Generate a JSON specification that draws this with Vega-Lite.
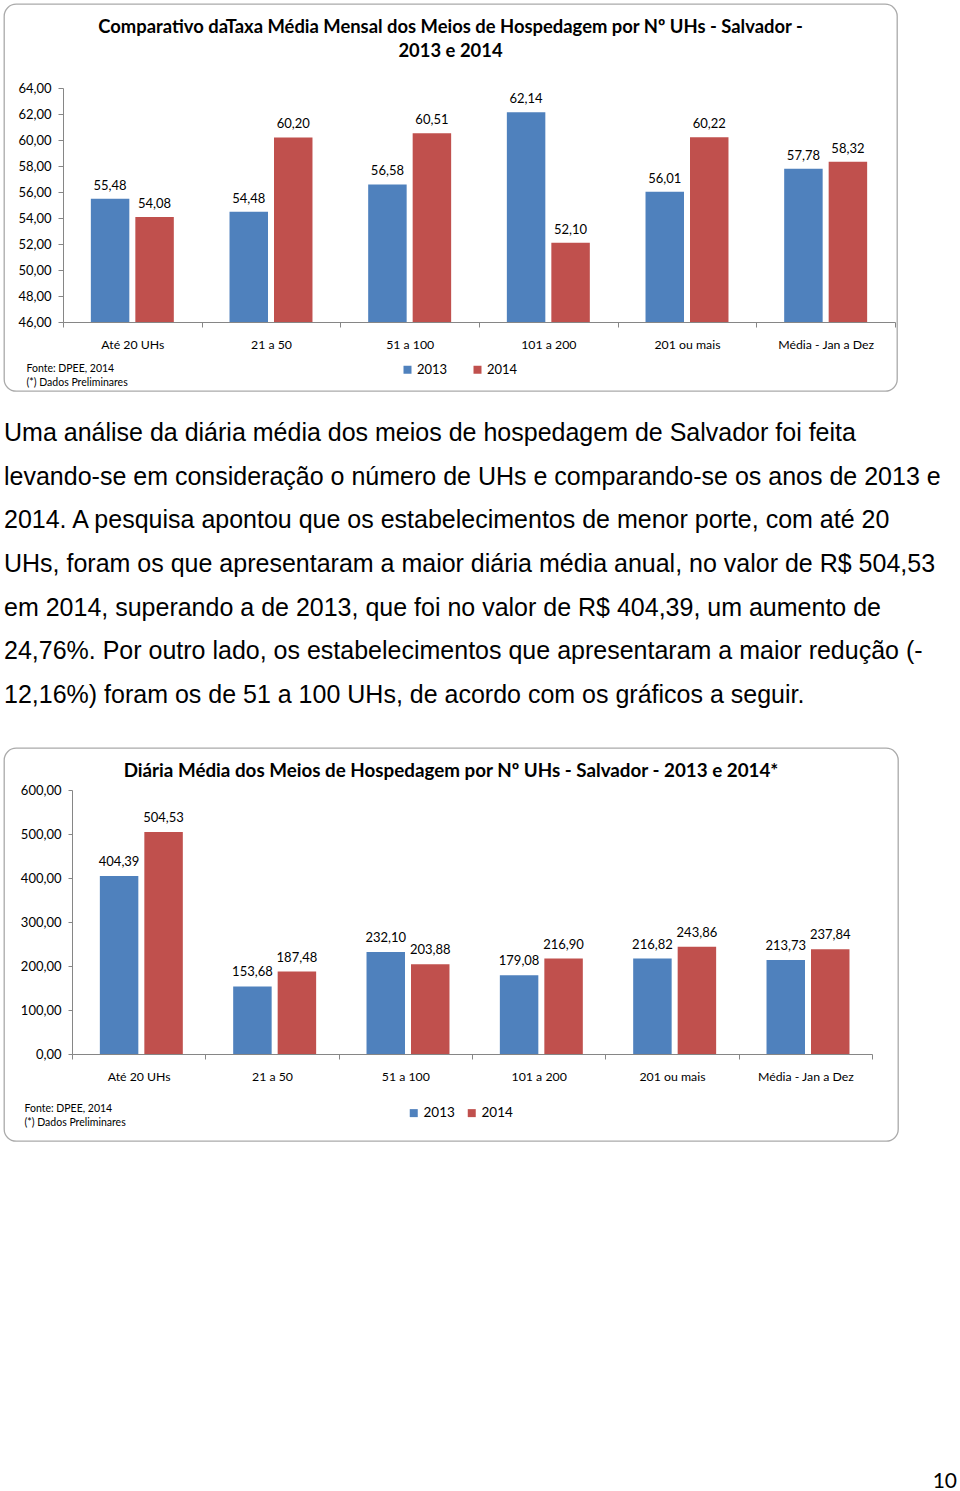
{
  "$schema": "https://vega.github.io/schema/vega-lite/v6.json",
  "padding": {"left": 3, "top": 3, "right": 2, "bottom": 0},
  "spacing": 0,
  "background": "white",
  "resolve": {"scale": {"color": "independent"}, "legend": {"color": "independent"}},
  "config": {
    "locale": {"number": {"decimal": ",", "thousands": ".", "grouping": [3], "currency": ["R$ ", ""]}},
    "view": {"stroke": "#aaaaaa", "strokeWidth": 1.3, "cornerRadius": 12},
    "axis": {"labelFont": "Lato", "labelColor": "#000000", "domainColor": "#868686", "tickColor": "#868686", "grid": false},
    "legend": {"labelFont": "Lato", "labelColor": "#000000"}
  },
  "datasets": {
    "taxa": [
      {"cat": "Até 20 UHs", "ano": "2013", "valor": 55.48},
      {"cat": "Até 20 UHs", "ano": "2014", "valor": 54.08},
      {"cat": "21 a 50", "ano": "2013", "valor": 54.48},
      {"cat": "21 a 50", "ano": "2014", "valor": 60.20},
      {"cat": "51 a 100", "ano": "2013", "valor": 56.58},
      {"cat": "51 a 100", "ano": "2014", "valor": 60.51},
      {"cat": "101 a 200", "ano": "2013", "valor": 62.14},
      {"cat": "101 a 200", "ano": "2014", "valor": 52.10},
      {"cat": "201 ou mais", "ano": "2013", "valor": 56.01},
      {"cat": "201 ou mais", "ano": "2014", "valor": 60.22},
      {"cat": "Média - Jan a Dez", "ano": "2013", "valor": 57.78},
      {"cat": "Média - Jan a Dez", "ano": "2014", "valor": 58.32}
    ],
    "diaria": [
      {"cat": "Até 20 UHs", "ano": "2013", "valor": 404.39},
      {"cat": "Até 20 UHs", "ano": "2014", "valor": 504.53},
      {"cat": "21 a 50", "ano": "2013", "valor": 153.68},
      {"cat": "21 a 50", "ano": "2014", "valor": 187.48},
      {"cat": "51 a 100", "ano": "2013", "valor": 232.10},
      {"cat": "51 a 100", "ano": "2014", "valor": 203.88},
      {"cat": "101 a 200", "ano": "2013", "valor": 179.08},
      {"cat": "101 a 200", "ano": "2014", "valor": 216.90},
      {"cat": "201 ou mais", "ano": "2013", "valor": 216.82},
      {"cat": "201 ou mais", "ano": "2014", "valor": 243.86},
      {"cat": "Média - Jan a Dez", "ano": "2013", "valor": 213.73},
      {"cat": "Média - Jan a Dez", "ano": "2014", "valor": 237.84}
    ],
    "texto": [
      {"linha": 1, "texto": "Uma análise da diária média dos meios de hospedagem de Salvador foi feita"},
      {"linha": 2, "texto": "levando-se em consideração o número de UHs e comparando-se os anos de 2013 e"},
      {"linha": 3, "texto": "2014. A pesquisa apontou que os estabelecimentos de menor porte, com até 20"},
      {"linha": 4, "texto": "UHs, foram os que apresentaram a maior diária média anual, no valor de R$ 504,53"},
      {"linha": 5, "texto": "em 2014, superando a de 2013, que foi no valor de R$ 404,39, um aumento de"},
      {"linha": 6, "texto": "24,76%. Por outro lado, os estabelecimentos que apresentaram a maior redução (-"},
      {"linha": 7, "texto": "12,16%) foram os de 51 a 100 UHs, de acordo com os gráficos a seguir."}
    ],
    "pagina": [{"p": "10"}]
  },
  "vconcat": [
    {
      "width": 893,
      "height": 387,
      "data": {"name": "taxa"},
      "title": {
        "text": ["Comparativo daTaxa Média Mensal dos Meios de Hospedagem por Nº UHs - Salvador -", "2013 e 2014"],
        "offset": -56, "anchor": "middle", "frame": "group",
        "font": "Lato", "fontSize": 18.4, "fontWeight": "bold", "lineHeight": 24, "color": "#000000"
      },
      "encoding": {
        "x": {
          "field": "cat", "type": "nominal", "sort": null,
          "scale": {"range": [59, 891], "paddingInner": 0, "paddingOuter": 0},
          "axis": {
            "orient": "bottom", "offset": -69, "tickBand": "extent", "tickSize": 5, "labelPadding": 11,
            "labelAngle": 0, "labelFontSize": 12.3,
            "title": ["Fonte: DPEE, 2014", "(*) Dados Preliminares"],
            "titleX": 22, "titleY": 49, "titleAlign": "left", "titleAnchor": "start", "titleBaseline": "alphabetic",
            "titleFont": "Lato", "titleFontSize": 10.5, "titleFontWeight": "normal", "titleLineHeight": 14, "titleColor": "#000000"
          }
        },
        "xOffset": {"field": "ano", "type": "nominal", "scale": {"paddingInner": 0.135, "paddingOuter": 0.626}},
        "y": {
          "field": "valor", "type": "quantitative",
          "scale": {"domain": [46, 64], "range": [318, 84], "zero": false, "nice": false},
          "axis": {"values": [46, 48, 50, 52, 54, 56, 58, 60, 62, 64], "format": ".2f", "offset": -59, "tickSize": 5, "labelPadding": 7, "labelFontSize": 13, "title": null}
        }
      },
      "layer": [
        {
          "mark": {"type": "bar"},
          "encoding": {
            "y2": {"datum": 46},
            "color": {
              "field": "ano", "type": "nominal", "scale": {"range": ["#4F81BD", "#C0504D"]},
              "legend": {"orient": "none", "legendX": 397, "legendY": 359, "direction": "horizontal", "title": null,
                "symbolType": "square", "symbolSize": 64, "symbolStrokeWidth": 0, "labelFontSize": 13, "labelOffset": 3, "columnPadding": 23}
            }
          }
        },
        {
          "mark": {"type": "text", "dy": -13, "baseline": "middle", "font": "Lato", "fontSize": 13, "color": "#000000"},
          "encoding": {"text": {"field": "valor", "type": "quantitative", "format": ".2f"}}
        }
      ]
    },
    {
      "width": 955,
      "height": 355,
      "view": {"stroke": null},
      "data": {"name": "texto"},
      "mark": {"type": "text", "align": "left", "baseline": "middle", "font": "Liberation Sans", "fontSize": 25, "color": "#000000"},
      "encoding": {
        "x": {"value": 0},
        "y": {"field": "linha", "type": "ordinal", "axis": null, "scale": {"range": [41, 303], "padding": 0}},
        "text": {"field": "texto"}
      }
    },
    {
      "width": 894,
      "height": 393,
      "data": {"name": "diaria"},
      "title": {
        "text": "Diária Média dos Meios de Hospedagem por Nº UHs - Salvador - 2013 e 2014*",
        "offset": -33, "anchor": "middle", "frame": "group",
        "font": "Lato", "fontSize": 18.8, "fontWeight": "bold", "color": "#000000"
      },
      "encoding": {
        "x": {
          "field": "cat", "type": "nominal", "sort": null,
          "scale": {"range": [68, 868], "paddingInner": 0, "paddingOuter": 0},
          "axis": {
            "orient": "bottom", "offset": -87, "tickBand": "extent", "tickSize": 5, "labelPadding": 11,
            "labelAngle": 0, "labelFontSize": 12.3,
            "title": ["Fonte: DPEE, 2014", "(*) Dados Preliminares"],
            "titleX": 20, "titleY": 57, "titleAlign": "left", "titleAnchor": "start", "titleBaseline": "alphabetic",
            "titleFont": "Lato", "titleFontSize": 10.5, "titleFontWeight": "normal", "titleLineHeight": 14, "titleColor": "#000000"
          }
        },
        "xOffset": {"field": "ano", "type": "nominal", "scale": {"paddingInner": 0.239, "paddingOuter": 0.569}},
        "y": {
          "field": "valor", "type": "quantitative",
          "scale": {"domain": [0, 600], "range": [306, 42], "nice": false},
          "axis": {"values": [0, 100, 200, 300, 400, 500, 600], "format": ".2f", "offset": -68, "tickSize": 4, "labelPadding": 7, "labelFontSize": 13, "title": null}
        }
      },
      "layer": [
        {
          "mark": {"type": "bar"},
          "encoding": {
            "y2": {"datum": 0},
            "color": {
              "field": "ano", "type": "nominal", "scale": {"range": ["#4F81BD", "#C0504D"]},
              "legend": {"orient": "none", "legendX": 403, "legendY": 358, "direction": "horizontal", "title": null,
                "symbolType": "square", "symbolSize": 64, "symbolStrokeWidth": 0, "labelFontSize": 13.5, "labelOffset": 3, "columnPadding": 10}
            }
          }
        },
        {
          "mark": {"type": "text", "dy": -14, "baseline": "middle", "font": "Lato", "fontSize": 13, "color": "#000000"},
          "encoding": {"text": {"field": "valor", "type": "quantitative", "format": ".2f"}}
        }
      ]
    },
    {
      "width": 953,
      "height": 353,
      "view": {"stroke": null},
      "data": {"name": "pagina"},
      "mark": {"type": "text", "align": "right", "baseline": "bottom", "dy": -3, "font": "Lato", "fontSize": 21, "color": "#000000"},
      "encoding": {
        "x": {"value": "width"},
        "y": {"value": "height"},
        "text": {"field": "p"}
      }
    }
  ]
}
